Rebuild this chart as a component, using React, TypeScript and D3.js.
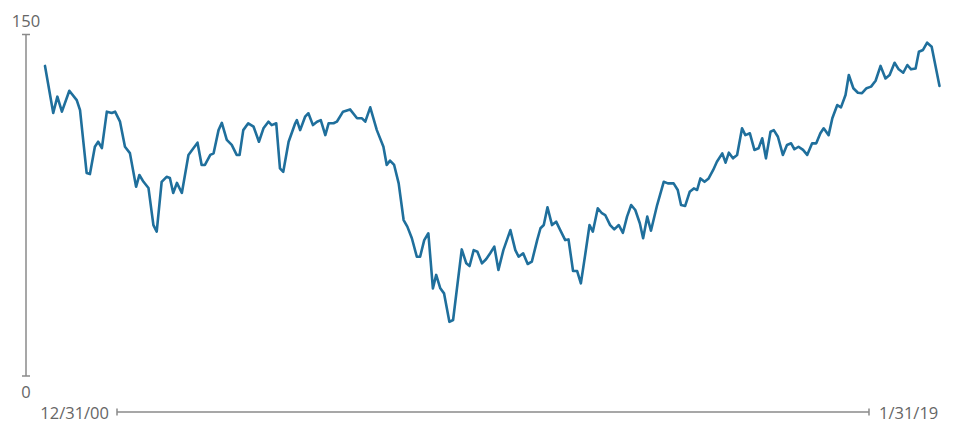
import { useEffect, useRef } from 'react';
import * as d3 from 'd3';

// months since 12/31/00 and index level
const months = [
  0, 2.0, 3.0, 4.1, 5.9, 7.7, 8.5, 10.1, 10.9, 12.1, 12.9, 13.8, 15.0, 16.2, 17.0, 18.2, 19.4, 20.6,
  22.1, 22.9, 23.9, 25.1, 26.3, 27.1, 28.3, 29.5, 30.3, 31.1, 32.0, 33.2, 34.8, 36.0, 37.0, 38.0,
  38.8, 40.1, 40.9, 42.1, 42.9, 44.1, 45.3, 46.5, 47.2, 48.1, 49.3, 50.6, 51.9, 53.0, 54.2, 55.0,
  56.1, 57.0, 57.8, 59.1, 60.7, 61.1, 61.9, 63.1, 63.9, 65.0, 66.0, 66.9, 68.0, 68.8, 70.0, 70.8,
  72.3, 74.0, 75.7, 76.9, 77.7, 78.9, 80.5, 82.1, 82.9, 83.7, 84.7, 85.8, 87.0, 87.9, 89.0, 90.2,
  91.0, 92.0, 93.0, 94.1, 94.9, 95.9, 96.8, 98.1, 99.0, 101.1, 102.2, 103.0, 104.0, 104.9, 106.0,
  107.0, 108.0, 109.0, 110.0, 111.2, 112.9, 114.1, 114.9, 116.0, 117.1, 118.1, 119.4, 120.2, 121.0,
  121.9, 123.0, 124.0, 125.0, 126.2, 127.0, 128.1, 129.1, 130.0, 131.1, 132.1, 132.9, 134.1, 135.1,
  135.9, 137.1, 138.1, 139.2, 140.2, 141.2, 142.2, 143.2, 144.3, 145.1, 146.1, 147.0, 148.5, 150.1,
  151.1, 152.5, 153.5, 154.3, 155.3, 156.4, 157.4, 158.2, 159.0, 160.0, 161.0, 162.1, 163.0, 164.3,
  165.1, 165.9, 166.9, 167.9, 169.1, 169.9, 171.0, 172.1, 173.1, 174.0, 174.9, 176.0, 176.8, 177.8,
  179.0, 180.0, 181.0, 181.8, 182.8, 183.9, 184.9, 186.1, 187.1, 188.1, 188.9, 190.1, 191.0, 192.2,
  193.1, 194.2, 195.0, 196.1, 197.2, 198.2, 199.3, 200.4, 201.5, 202.7, 203.9, 204.9, 206.1, 207.1,
  208.2, 209.2, 210.1, 211.2, 212.0, 213.0, 214.0, 215.1, 217.0,
];

const values = [
  136.2, 115.5, 122.7, 116.1, 125.3, 121.2, 116.8, 89.2, 88.7, 100.7, 102.9, 100.1, 116.1, 115.5, 116.1,
  111.7, 100.7, 97.9, 83.1, 88.3, 85.3, 82.6, 66.3, 63.4, 85.3, 87.5, 87.0, 80.4, 84.8, 80.4, 97.1,
  100.0, 102.5, 92.7, 92.7, 97.1, 97.8, 108.0, 111.2, 103.7, 101.5, 97.1, 97.1, 108.0, 111.0, 109.5,
  102.9, 108.8, 111.7, 110.2, 111.0, 91.2, 89.7, 102.9, 111.0, 112.4, 108.0, 113.9, 115.4, 110.2,
  111.7, 112.4, 105.8, 111.0, 111.0, 111.7, 116.1, 117.1, 113.2, 113.2, 111.7, 118.0, 108.0, 100.7,
  92.7, 94.6, 92.7, 84.6, 68.5, 65.6, 60.5, 52.4, 52.4, 59.7, 62.7, 38.5, 44.4, 38.5, 36.3, 23.8,
  24.6, 55.6, 49.5, 48.3, 55.3, 54.6, 49.5, 51.3, 53.9, 56.8, 46.6, 55.3, 64.1, 55.3, 52.4, 53.9,
  49.2, 50.2, 59.7, 64.9, 66.3, 74.1, 66.3, 67.8, 64.1, 59.7, 60.0, 46.1, 46.1, 40.7, 53.9, 66.3,
  63.4, 73.7, 71.5, 70.7, 66.3, 64.4, 66.3, 62.9, 70.0, 75.1, 72.9, 67.1, 60.5, 70.0, 63.8, 75.1,
  85.3, 84.6, 84.6, 81.7, 75.1, 74.7, 80.9, 82.4, 81.7, 86.8, 85.3, 86.8, 90.5, 94.1, 97.8, 93.7,
  98.1, 95.6, 97.1, 108.8, 105.8, 106.6, 99.3, 100.0, 104.4, 95.6, 107.3, 108.0, 105.1, 97.1, 101.5,
  102.2, 99.6, 100.7, 99.3, 97.1, 102.2, 102.2, 106.6, 108.8, 105.8, 113.2, 119.0, 118.0, 123.4,
  132.2, 126.4, 124.4, 124.2, 126.4, 127.1, 129.7, 136.2, 130.7, 132.2, 137.6, 134.7, 133.2, 136.6,
  134.7, 135.1, 142.4, 143.2, 146.4, 144.6, 127.4,
];

const yTickLabels = ['0', '150'];
const dateLabels = ['12/31/00', '1/31/19'];

const W = 960;
const H = 431;
const LABEL_COLOR = '#666666';
const AXIS_COLOR = '#8a8a8a';
const LINE_COLOR = '#1f6f9c';

export default function App() {
  const svgRef = useRef<SVGSVGElement>(null);

  useEffect(() => {
    if (!svgRef.current) return;
    const svg = d3.select(svgRef.current);
    svg.selectAll('*').remove();

    const x = d3.scaleLinear().domain([0, 217]).range([45, 939.5]);
    const y = d3.scaleLinear().domain([0, 150]).range([376, 34.5]);
    const font = "'Open Sans', sans-serif";
    const fontSize = 16.5;

    // y axis: plain line with end ticks
    const axisX = 26;
    svg.append('line')
      .attr('x1', axisX).attr('x2', axisX)
      .attr('y1', y(150)).attr('y2', y(0))
      .attr('stroke', AXIS_COLOR).attr('stroke-width', 1.5);
    [0, 150].forEach(v => {
      svg.append('line')
        .attr('x1', axisX - 4).attr('x2', axisX + 4)
        .attr('y1', y(v)).attr('y2', y(v))
        .attr('stroke', AXIS_COLOR).attr('stroke-width', 1.5);
    });
    svg.append('text')
      .attr('x', axisX).attr('y', y(150) - 7.5)
      .attr('text-anchor', 'middle')
      .attr('font-family', font).attr('font-size', fontSize)
      .attr('fill', LABEL_COLOR)
      .text(yTickLabels[1]);
    svg.append('text')
      .attr('x', axisX).attr('y', y(0) + 22)
      .attr('text-anchor', 'middle')
      .attr('font-family', font).attr('font-size', fontSize)
      .attr('fill', LABEL_COLOR)
      .text(yTickLabels[0]);

    // date range bar
    const barY = 412;
    const barL = 117;
    const barR = 869;
    svg.append('line')
      .attr('x1', barL).attr('x2', barR)
      .attr('y1', barY).attr('y2', barY)
      .attr('stroke', AXIS_COLOR).attr('stroke-width', 1.5);
    [barL, barR].forEach(bx => {
      svg.append('line')
        .attr('x1', bx).attr('x2', bx)
        .attr('y1', barY - 3.5).attr('y2', barY + 3.5)
        .attr('stroke', AXIS_COLOR).attr('stroke-width', 1.5);
    });
    svg.append('text')
      .attr('x', barL - 8).attr('y', barY + 6.5)
      .attr('text-anchor', 'end')
      .attr('font-family', font).attr('font-size', fontSize)
      .attr('fill', LABEL_COLOR)
      .text(dateLabels[0]);
    svg.append('text')
      .attr('x', barR + 10).attr('y', barY + 6.5)
      .attr('text-anchor', 'start')
      .attr('font-family', font).attr('font-size', fontSize)
      .attr('fill', LABEL_COLOR)
      .text(dateLabels[1]);

    // series
    const data = months.map((m, i) => ({ m, v: values[i] }));
    const line = d3.line<{ m: number; v: number }>()
      .x(d => x(d.m))
      .y(d => y(d.v))
      .curve(d3.curveLinear);
    svg.append('path')
      .datum(data)
      .attr('fill', 'none')
      .attr('stroke', LINE_COLOR)
      .attr('stroke-width', 2.6)
      .attr('stroke-linejoin', 'round')
      .attr('stroke-linecap', 'round')
      .attr('d', line);
  }, []);

  return (
    <svg
      ref={svgRef}
      width={W}
      height={H}
      style={{ position: 'absolute', left: 0, top: 0, background: '#fff' }}
    />
  );
}
